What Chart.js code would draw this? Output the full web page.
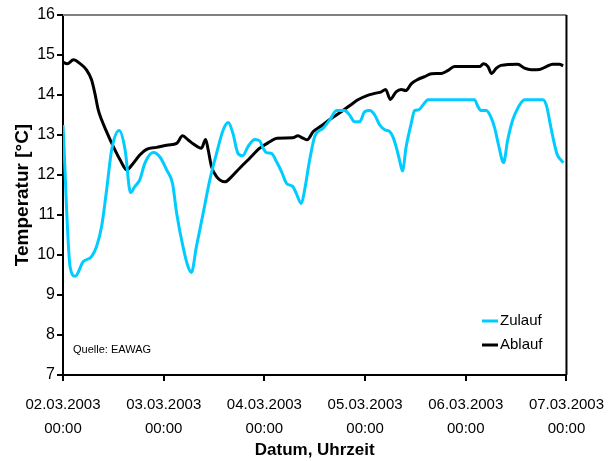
<!DOCTYPE html>
<html lang="de">
<head>
<meta charset="UTF-8">
<title>Temperatur Zulauf / Ablauf</title>
<script src="https://cdn.jsdelivr.net/npm/chart.js"></script>
<style>
  html, body { margin: 0; padding: 0; background: #fff; }
  #wrap { width: 615px; height: 461px; }
</style>
</head>
<body>
<div id="wrap"><canvas id="chart"></canvas></div>
<script>
// time in hours from 02.03.2003 00:00
const dayLabels = [
  ['02.03.2003', '00:00'], ['03.03.2003', '00:00'], ['04.03.2003', '00:00'],
  ['05.03.2003', '00:00'], ['06.03.2003', '00:00'], ['07.03.2003', '00:00']
];

const zulaufHours = [0, 1.7, 2.9, 4.8, 6.8, 8.0, 9.2, 10.4, 11.6, 13.4, 14.8, 16.1, 17.1, 18.3, 19.5, 21.5,
  23.1, 24.7, 26.1, 27.1, 28.6, 29.8, 30.6, 31.8, 33.4, 35.0, 36.6, 38.2, 39.4, 40.5, 41.7, 42.8, 44.1,
  45.7, 46.9, 47.7, 48.5, 49.7, 50.9, 52.1, 53.3, 54.8, 55.6, 56.8, 57.6, 58.8, 60.0, 62.0, 63.6, 65.2,
  67.1, 68.3, 69.5, 70.7, 71.9, 73.1, 74.3, 75.5, 76.7, 77.9, 78.6, 79.4, 80.2, 80.9, 81.8, 83.0, 83.8,
  84.8, 85.8, 87.0, 98.1, 98.9, 99.7, 100.9, 102.1, 102.9, 103.9, 105.0, 106.0, 107.2, 108.4, 110.0,
  114.4, 115.3, 116.1, 116.9, 117.7, 118.3, 119.3];
const zulaufTemp = [13.25, 9.7, 9.47, 9.83, 9.96, 10.21, 10.71, 11.63, 12.63, 13.11, 12.63, 11.56, 11.71, 11.88, 12.29, 12.56,
  12.45, 12.13, 11.79, 11.04, 10.21, 9.71, 9.56, 10.21, 11.04, 11.88, 12.54, 13.13, 13.31, 13.04, 12.54, 12.48, 12.71,
  12.89, 12.85, 12.67, 12.56, 12.54, 12.33, 12.08, 11.79, 11.71, 11.54, 11.29, 11.63, 12.38, 12.96, 13.17, 13.38, 13.61,
  13.61, 13.5, 13.33, 13.33, 13.58, 13.61, 13.5, 13.25, 13.13, 13.08, 12.96, 12.71, 12.38, 12.1, 12.71, 13.29, 13.61,
  13.63, 13.75, 13.88, 13.88, 13.71, 13.61, 13.61, 13.42, 13.17, 12.71, 12.31, 12.88, 13.38, 13.67, 13.88,
  13.88, 13.71, 13.29, 12.88, 12.54, 12.42, 12.31];

const ablaufHours = [0, 1, 2.5, 4, 5.6, 6.8, 7.6, 8.4, 9.2, 10.4, 12, 13.6, 15.2, 16.7, 18.3, 19.9, 22.3,
  25.1, 27.1, 28.5, 29.8, 31, 33, 34, 34.6, 35.4, 36.6, 38.6, 40.2, 42.1, 44.5, 46.9, 49.3, 51, 54.8,
  56, 57.2, 58.2, 59.6, 61.6, 64, 66.3, 68.3, 70.3, 72.3, 74.3, 75.9, 76.9, 78, 79.4, 80.6, 81.7, 83,
  84.6, 86.2, 87.8, 90.2, 91.7, 93.3, 99.3, 100.2, 101.3, 102.1, 103.3, 104.4, 108.4, 110, 111.6,
  113.6, 115.2, 116.7, 118.3, 119.2];
const ablaufTemp = [14.82, 14.78, 14.88, 14.79, 14.63, 14.38, 14.04, 13.63, 13.38, 13.08, 12.71, 12.38, 12.13, 12.29, 12.5, 12.64, 12.69,
  12.75, 12.79, 12.98, 12.88, 12.78, 12.67, 12.89, 12.63, 12.21, 11.96, 11.83, 11.96, 12.17, 12.42, 12.67, 12.83, 12.92, 12.93,
  12.98, 12.92, 12.88, 13.08, 13.23, 13.42, 13.58, 13.73, 13.88, 13.98, 14.04, 14.08, 14.14, 13.89, 14.08, 14.14, 14.11, 14.28,
  14.39, 14.46, 14.53, 14.54, 14.61, 14.71, 14.71, 14.78, 14.71, 14.54, 14.67, 14.74, 14.77, 14.67, 14.63,
  14.64, 14.71, 14.77, 14.77, 14.73];

const pts = (xs, ys) => xs.map((x, i) => ({ x: x, y: ys[i] }));
const FONT = "'Liberation Sans', Arial, sans-serif";

// top (grey) and right (black) frame of the plot, source note and inner legend
const framePlugin = {
  id: 'frame',
  afterDraw(chart) {
    const { ctx, chartArea: a } = chart;
    ctx.save();
    ctx.lineWidth = 2;
    ctx.strokeStyle = '#808080';
    ctx.beginPath(); ctx.moveTo(a.left, a.top); ctx.lineTo(a.right, a.top); ctx.stroke();
    ctx.strokeStyle = '#000';
    ctx.beginPath(); ctx.moveTo(a.right, a.top); ctx.lineTo(a.right, a.bottom); ctx.stroke();

    ctx.fillStyle = '#000';
    ctx.font = '11px ' + FONT;
    ctx.textBaseline = 'middle';
    ctx.fillText('Quelle: EAWAG', a.left + 10, 350);

    ctx.font = '15px ' + FONT;
    chart.data.datasets.forEach((ds, i) => {
      const y = 321 + i * 24;
      ctx.strokeStyle = ds.borderColor;
      ctx.lineWidth = 3;
      ctx.beginPath(); ctx.moveTo(482, y); ctx.lineTo(498, y); ctx.stroke();
      ctx.fillText(ds.label, 500, y);
    });
    ctx.restore();
  }
};

new Chart(document.getElementById('chart'), {
  type: 'line',
  data: {
    datasets: [
      { label: 'Zulauf', data: pts(zulaufHours, zulaufTemp), borderColor: '#00CCFF', borderWidth: 3,
        pointRadius: 0, cubicInterpolationMode: 'monotone', fill: false },
      { label: 'Ablauf', data: pts(ablaufHours, ablaufTemp), borderColor: '#000000', borderWidth: 3,
        pointRadius: 0, cubicInterpolationMode: 'monotone', fill: false }
    ]
  },
  options: {
    responsive: true,
    maintainAspectRatio: false,
    animation: false,
    layout: { padding: { left: 0, right: 44, top: 15, bottom: 0 } },
    plugins: { legend: { display: false }, tooltip: { enabled: false } },
    scales: {
      x: {
        type: 'linear', min: 0, max: 120,
        afterFit(scale) { scale.height = 86; },
        afterBuildTicks(scale) { scale.ticks = dayLabels.map((_, i) => ({ value: i * 24 })); },
        ticks: {
          color: '#000', font: { family: FONT, size: 15, lineHeight: 1.65 }, padding: 11, maxRotation: 0, autoSkip: false,
          callback: (v) => dayLabels[v / 24]
        },
        grid: { drawOnChartArea: false, color: '#000', tickLength: 6, lineWidth: 2 },
        border: { color: '#000', width: 2 },
        title: { display: true, text: 'Datum, Uhrzeit', color: '#000',
          font: { family: FONT, size: 17, weight: 'bold' }, padding: { top: 0, bottom: 0 } }
      },
      y: {
        min: 7, max: 16,
        afterFit(scale) { scale.width = 63; },
        ticks: { stepSize: 1, color: '#000', font: { family: FONT, size: 16 }, padding: 2 },
        grid: { drawOnChartArea: false, color: '#000', tickLength: 6, lineWidth: 2 },
        border: { color: '#000', width: 2 },
        title: { display: true, text: 'Temperatur [°C]', color: '#000',
          font: { family: FONT, size: 19, weight: 'bold' }, padding: { top: 11, bottom: 0 } }
      }
    }
  },
  plugins: [framePlugin]
});
</script>
</body>
</html>
